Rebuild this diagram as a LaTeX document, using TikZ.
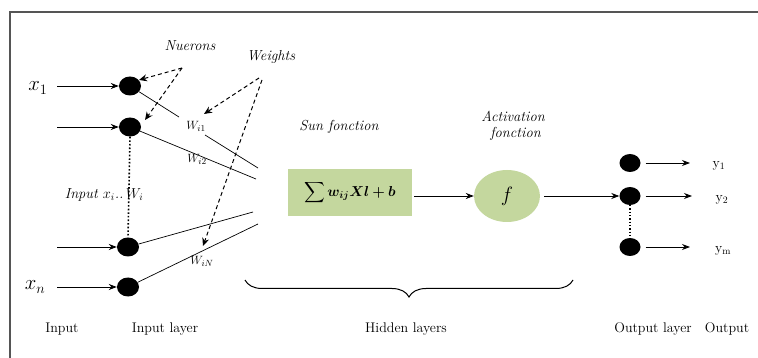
\documentclass[tikz,border=0pt]{standalone}
\usepackage{amsmath,bm}
\usetikzlibrary{arrows.meta,shapes.geometric,decorations.pathreplacing}
\definecolor{boxgreen}{HTML}{C4D79E}
\definecolor{framegray}{HTML}{555555}
\tikzset{
  neuron/.style={ellipse,fill=black,minimum width=22pt,minimum height=19pt,inner sep=0pt},
  oneuron/.style={ellipse,fill=black,minimum width=21pt,minimum height=18pt,inner sep=0pt},
  inarrow/.style={-{Stealth[length=8pt,width=6pt]},line width=0.9pt},
  wline/.style={line width=0.7pt},
  dasharrow/.style={dashed,dash pattern=on 4pt off 3pt,line width=1pt,-{Stealth[length=8pt,width=7pt]}},
  dotline/.style={dotted,line width=1.6pt},
  lab/.style={inner sep=1pt,font=\fontsize{14}{15}\selectfont},
  ital/.style={inner sep=1pt,font=\fontsize{14.5}{16}\selectfont\itshape},
  wlab/.style={inner sep=1pt,font=\fontsize{13}{14}\selectfont},
}
\begin{document}
\begin{tikzpicture}[x=1pt,y=-1pt]
\useasboundingbox (0,0) rectangle (758,358);
% frame
\draw[framegray,line width=1.4pt] (10,358) -- (10,12) -- (758,12);

% input labels
\node[lab] (x1) at (38,88) {\fontsize{20}{20}\selectfont$x_1$};
\node[lab] (xn) at (35,287) {\fontsize{20}{20}\selectfont$x_n$};

% input neurons
\node[neuron] (n1) at (130,86) {};
\node[neuron] (n2) at (130,127) {};
\node[neuron] (n3) at (128,247) {};
\node[neuron] (n4) at (128,287) {};

\coordinate (a1) at (57,86);
\coordinate (a2) at (57,127);
\coordinate (a3) at (57,247);
\coordinate (a4) at (57,287);
\draw[inarrow] (a1) -- (n1.west);
\draw[inarrow] (a2) -- (n2.west);
\draw[inarrow] (a3) -- (n3.west);
\draw[inarrow] (a4) -- (n4.west);

\draw[dotline] (n2.south) -- (n3.north);
\node[ital] (inputxw) at (104,195) {Input $x_i$..\,$W_i$};

% weight lines
\node[wlab] (w1) at (196,126) {$W_{i1}$};
\node[wlab] (w2) at (197,159) {$W_{i2}$};
\node[wlab] (wn) at (202,261) {$W_{iN}$};
\coordinate (e1) at (258,168);
\coordinate (e2) at (256,179);
\coordinate (e3) at (253,212);
\coordinate (e4) at (258,224);
\coordinate (w1a) at (179,117);
\coordinate (w1b) at (205,135);
\draw[wline] (n1) -- (w1a);
\draw[wline] (w1b) -- (e1);
\draw[wline] (n2) -- (e2);
\draw[wline] (n3) -- (e3);
\draw[wline] (n4) -- (e4);

% annotations
\node[ital] (nuer) at (190,46) {Nuerons};
\node[ital] (wts) at (271,57) {Weights};
\coordinate (nu0) at (182,68);
\coordinate (nt1) at (139,80);
\coordinate (nt2) at (145,120);
\draw[dasharrow] (nu0) -- (nt1);
\draw[dasharrow] (nu0) -- (nt2);
\coordinate (wa) at (259,78);
\coordinate (wb) at (262,80);
\coordinate (wt1) at (204,114);
\coordinate (wt2) at (203,246);
\draw[dasharrow] (wa) -- (wt1);
\draw[dasharrow] (wb) -- (wt2);

% sum box
\node[ital] (sumlab) at (339,127) {Sun fonction};
\node[draw=none,fill=boxgreen,minimum width=124pt,minimum height=47pt,inner sep=0pt] (sum) at (350,193)
  {\fontsize{14}{14}\selectfont$\displaystyle\sum \bm{w_{ij}Xl+b}$};

% activation
\node[ital,align=center] (actlab) at (513,126) {Activation\\\ fonction};
\node[ellipse,fill=boxgreen,minimum width=66pt,minimum height=52pt,inner sep=0pt] (act) at (507,196)
  {\fontsize{21}{21}\selectfont$f$};
\draw[inarrow,line width=0.8pt] (sum.east |- act) ++(2,0) -- (act.west);

% output neurons
\node[oneuron] (o1) at (630,163) {};
\node[oneuron] (o2) at (630,196) {};
\node[oneuron] (o3) at (630,247) {};
\draw[inarrow,line width=0.8pt] (act.east) ++(4,0) -- (o2.west);
\draw[dotline,line width=1.3pt] (o2.south) -- (o3.north);

\node[lab] (y1) at (719,166) {y\textsubscript{1}};
\node[lab] (y2) at (722,200) {y\textsubscript{2}};
\node[lab] (ym) at (723,251) {y\textsubscript{m}};
\coordinate (b1) at (690,163);
\coordinate (b2) at (692,196);
\coordinate (b3) at (690,247);
\draw[inarrow] (o1.east) ++(5,0) -- (b1);
\draw[inarrow] (o2.east) ++(5,0) -- (b2);
\draw[inarrow] (o3.east) ++(5,0) -- (b3);

% brace
\coordinate (bl) at (245,280);
\coordinate (br) at (573,280);
\draw[line width=1pt,decorate,decoration={brace,mirror,amplitude=17pt,raise=0pt}] (bl) -- (br);

% bottom labels
\node[lab] (inlab) at (62,329) {Input};
\node[lab] (inlay) at (165,329) {Input layer};
\node[lab] (hid) at (406,329) {Hidden layers};
\node[lab] (outlay) at (653,329) {Output layer};
\node[lab] (outlab) at (727,329) {Output};
\end{tikzpicture}
\end{document}
